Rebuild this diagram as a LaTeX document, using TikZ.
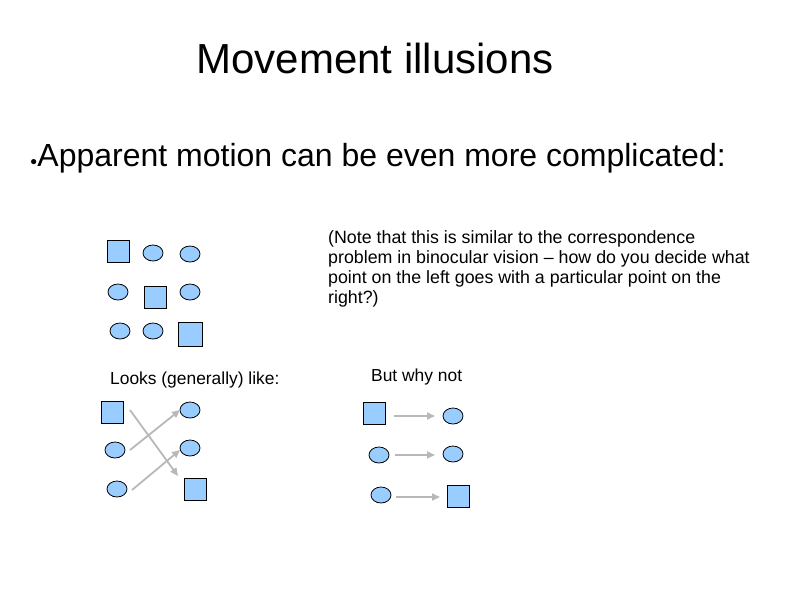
\documentclass[tikz,border=0pt]{standalone}
\usepackage{fontspec}
\setmainfont{Liberation Sans}
\usetikzlibrary{shapes.geometric,arrows.meta}
\definecolor{shp}{HTML}{99CCFF}
\definecolor{arc}{HTML}{B8B8B8}
\begin{document}
\begin{tikzpicture}[x=1pt,y=-1pt,
 sq/.style={draw=black,fill=shp,line width=0.8pt,minimum size=22pt,inner sep=0pt,rectangle},
 el/.style={draw=black,fill=shp,line width=0.8pt,ellipse,minimum width=20pt,minimum height=16pt,inner sep=0pt},
 ar/.style={draw=arc,line width=1.8pt,-{Triangle[length=8pt,width=7pt]}},
 txt/.style={anchor=west,inner sep=0pt,align=left}]
\useasboundingbox (0,0) rectangle (794,595);
\node[inner sep=0pt,font=\fontsize{42}{50}\selectfont] (title) at (375,58) {Movement illusions};
\node[txt,font=\fontsize{32}{36}\selectfont] (bul) at (30,158) {\raisebox{1pt}{\fontsize{12}{12}\selectfont●}Apparent motion can be even more complicated:};
\node[txt,font=\fontsize{17.8}{20}\selectfont] (note) at (328,269) {(Note that this is similar to the correspondence\\problem in binocular vision -- how do you decide what\\point on the left goes with a particular point on the\\right?)};
\node[txt,font=\fontsize{17.4}{20}\selectfont] (looks) at (110,380) {Looks (generally) like:};
\node[txt,font=\fontsize{17.4}{20}\selectfont] (why) at (371,377) {But why not};
% top grid
\node[sq] (g1) at (118,251) {};
\node[el] (g2) at (153,253) {};
\node[el] (g3) at (190,254) {};
\node[el] (g4) at (118,292) {};
\node[sq] (g5) at (155,297) {};
\node[el] (g6) at (190,292) {};
\node[el] (g7) at (120,331) {};
\node[el] (g8) at (153,331) {};
\node[sq,minimum size=24pt] (g9) at (190,334) {};
% bottom left
\node[sq] (a1) at (112,412) {};
\node[el] (a2) at (190,410) {};
\node[el] (a3) at (115,450) {};
\node[el] (a4) at (190,448) {};
\node[el] (a5) at (117,489) {};
\node[sq] (a6) at (195,489) {};
\coordinate (s1) at (130,410); \coordinate (t1) at (178,476);
\coordinate (s2) at (130,450); \coordinate (t2) at (180,410);
\coordinate (s3) at (132,490); \coordinate (t3) at (180,450);
\draw[ar] (s1) -- (t1);
\draw[ar] (s2) -- (t2);
\draw[ar] (s3) -- (t3);
% bottom right
\node[sq] (b1) at (374,413) {};
\node[el] (b2) at (453,416) {};
\node[el] (b3) at (379,455) {};
\node[el] (b4) at (453,454) {};
\node[el] (b5) at (381,495) {};
\node[sq] (b6) at (458,496) {};
\coordinate (u1) at (394,416); \coordinate (v1) at (435,416);
\coordinate (u2) at (395,455); \coordinate (v2) at (435,455);
\coordinate (u3) at (396,497); \coordinate (v3) at (440,497);
\draw[ar] (u1) -- (v1);
\draw[ar] (u2) -- (v2);
\draw[ar] (u3) -- (v3);
\end{tikzpicture}
\end{document}
